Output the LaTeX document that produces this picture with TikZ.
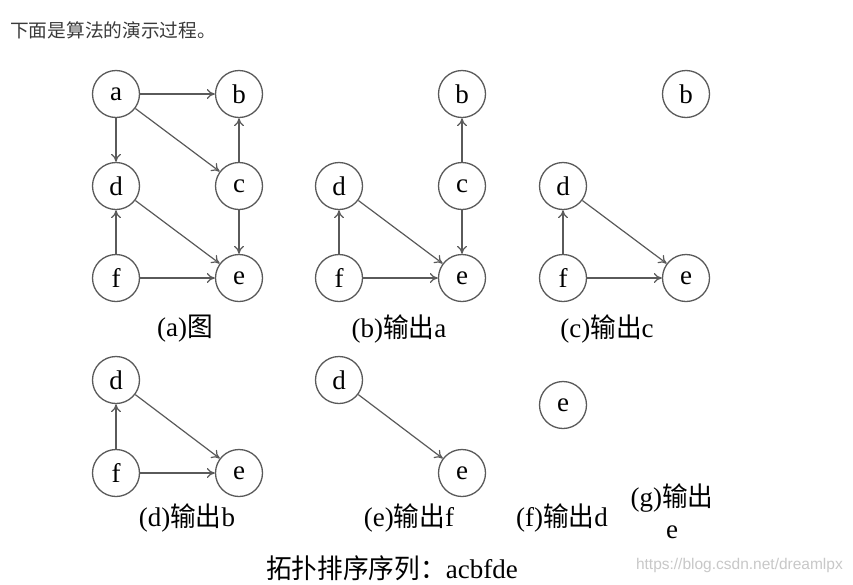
\documentclass[tikz,border=0pt]{standalone}
\usepackage{fontspec}
\setmainfont{Liberation Serif}
\newfontfamily\cjk{Noto Sans CJK SC}
\newfontfamily\cjkn[FakeStretch=0.95]{Noto Sans CJK SC}
\newfontfamily\wm{Liberation Sans}
\usetikzlibrary{arrows.meta}
\definecolor{linegray}{HTML}{5A5A5A}
\definecolor{textgray}{HTML}{3A3A3A}
\definecolor{wmgray}{HTML}{C8C8C8}
\begin{document}
\begin{tikzpicture}[x=1pt,y=-1pt,
  vtx/.style={circle,draw=linegray,line width=1.3pt,minimum size=47pt,inner sep=0pt,font=\fontsize{27}{27}\selectfont},
  edg/.style={draw=linegray,line width=1.2pt,-{To[length=8pt,width=10pt]}},
  captext/.style={font=\fontsize{27}{30}\selectfont,text=black,inner sep=0pt}]
\useasboundingbox (0,0) rectangle (853,584);
\fill[white] (0,0) rectangle (853,584);
% top text
\node[anchor=west,inner sep=0pt,text=textgray,font=\cjk\fontsize{18.7}{21}\selectfont] (intro) at (10,30) {下面是算法的演示过程。};
% graph (a)
\node[vtx] (a1) at (116,94) {a};
\node[vtx] (b1) at (239,94) {b};
\node[vtx] (d1) at (116,186) {d};
\node[vtx] (c1) at (239,186) {c};
\node[vtx] (f1) at (116,278) {f};
\node[vtx] (e1) at (239,278) {e};
\draw[edg] (a1) -- (b1);
\draw[edg] (a1) -- (d1);
\draw[edg] (a1) -- (c1);
\draw[edg] (c1) -- (b1);
\draw[edg] (c1) -- (e1);
\draw[edg] (d1) -- (e1);
\draw[edg] (f1) -- (d1);
\draw[edg] (f1) -- (e1);
\node[captext] (capa) at (185,329) {(a){\cjkn 图}};
% graph (b)
\node[vtx] (b2) at (462,94) {b};
\node[vtx] (d2) at (339,186) {d};
\node[vtx] (c2) at (462,186) {c};
\node[vtx] (f2) at (339,278) {f};
\node[vtx] (e2) at (462,278) {e};
\draw[edg] (c2) -- (b2);
\draw[edg] (c2) -- (e2);
\draw[edg] (d2) -- (e2);
\draw[edg] (f2) -- (d2);
\draw[edg] (f2) -- (e2);
\node[captext] (capb) at (399,329) {(b){\cjkn 输出}a};
% graph (c)
\node[vtx] (b3) at (686,94) {b};
\node[vtx] (d3) at (563,186) {d};
\node[vtx] (f3) at (563,278) {f};
\node[vtx] (e3) at (686,278) {e};
\draw[edg] (d3) -- (e3);
\draw[edg] (f3) -- (d3);
\draw[edg] (f3) -- (e3);
\node[captext] (capc) at (607,329) {(c){\cjkn 输出}c};
% graph (d)
\node[vtx] (d4) at (116,380) {d};
\node[vtx] (f4) at (116,473) {f};
\node[vtx] (e4) at (239,473) {e};
\draw[edg] (f4) -- (d4);
\draw[edg] (d4) -- (e4);
\draw[edg] (f4) -- (e4);
\node[captext] (capd) at (187,518) {(d){\cjkn 输出}b};
% graph (e)
\node[vtx] (d5) at (339,380) {d};
\node[vtx] (e5) at (462,473) {e};
\draw[edg] (d5) -- (e5);
\node[captext] (cape) at (409,518) {(e){\cjkn 输出}f};
% graph (f)
\node[vtx] (e6) at (563,405) {e};
\node[captext] (capf) at (562,518) {(f){\cjkn 输出}d};
% (g)
\node[captext] (capg) at (672,498) {(g){\cjkn 输出}};
\node[captext] (capg2) at (672,532) {e};
% result
\node[captext] (seq) at (392,568) {{\cjkn 拓扑排序序列：}acbfde};
% watermark
\node[inner sep=0pt,anchor=east,text=wmgray,font=\wm\fontsize{15.5}{17}\selectfont] (wm) at (843,565) {https://blog.csdn.net/dreamlpx};
\end{tikzpicture}
\end{document}
